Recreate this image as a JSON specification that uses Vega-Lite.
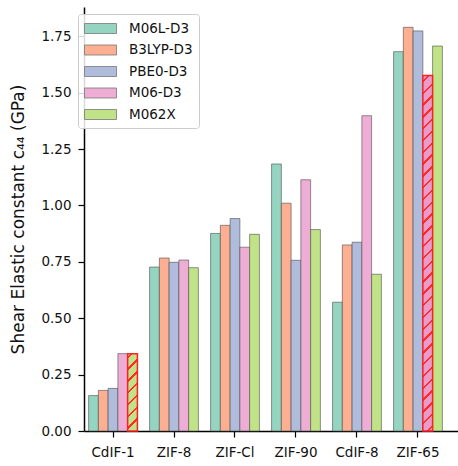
{
"$schema": "https://vega.github.io/schema/vega-lite/v6.json",
"width": 374,
"height": 424,
"autosize": {"type": "none"},
"padding": {"left": 84, "top": 7, "right": 0, "bottom": 35},
"background": "white",
"config": {
  "view": {"stroke": null},
  "font": "DejaVu Sans",
  "axis": {"domainColor": "#000", "domainWidth": 1.5, "tickColor": "#000", "tickWidth": 1.2, "tickSize": 6, "labelColor": "#111", "labelFont": "DejaVu Sans", "labelFontSize": 13.5, "grid": false, "titleFont": "DejaVu Sans", "titleColor": "#111"}
},
"data": {"values": [
  {"material": "CdIF-1", "method": "M06L-D3", "value": 0.157},
  {"material": "CdIF-1", "method": "B3LYP-D3", "value": 0.180},
  {"material": "CdIF-1", "method": "PBE0-D3", "value": 0.189},
  {"material": "CdIF-1", "method": "M06-D3", "value": 0.343},
  {"material": "CdIF-1", "method": "M062X", "value": 0.343},
  {"material": "ZIF-8", "method": "M06L-D3", "value": 0.727},
  {"material": "ZIF-8", "method": "B3LYP-D3", "value": 0.767},
  {"material": "ZIF-8", "method": "PBE0-D3", "value": 0.748},
  {"material": "ZIF-8", "method": "M06-D3", "value": 0.758},
  {"material": "ZIF-8", "method": "M062X", "value": 0.724},
  {"material": "ZIF-Cl", "method": "M06L-D3", "value": 0.876},
  {"material": "ZIF-Cl", "method": "B3LYP-D3", "value": 0.912},
  {"material": "ZIF-Cl", "method": "PBE0-D3", "value": 0.942},
  {"material": "ZIF-Cl", "method": "M06-D3", "value": 0.815},
  {"material": "ZIF-Cl", "method": "M062X", "value": 0.872},
  {"material": "ZIF-90", "method": "M06L-D3", "value": 1.184},
  {"material": "ZIF-90", "method": "B3LYP-D3", "value": 1.010},
  {"material": "ZIF-90", "method": "PBE0-D3", "value": 0.757},
  {"material": "ZIF-90", "method": "M06-D3", "value": 1.114},
  {"material": "ZIF-90", "method": "M062X", "value": 0.893},
  {"material": "CdIF-8", "method": "M06L-D3", "value": 0.571},
  {"material": "CdIF-8", "method": "B3LYP-D3", "value": 0.825},
  {"material": "CdIF-8", "method": "PBE0-D3", "value": 0.837},
  {"material": "CdIF-8", "method": "M06-D3", "value": 1.398},
  {"material": "CdIF-8", "method": "M062X", "value": 0.695},
  {"material": "ZIF-65", "method": "M06L-D3", "value": 1.682},
  {"material": "ZIF-65", "method": "B3LYP-D3", "value": 1.790},
  {"material": "ZIF-65", "method": "PBE0-D3", "value": 1.774},
  {"material": "ZIF-65", "method": "M06-D3", "value": 1.576},
  {"material": "ZIF-65", "method": "M062X", "value": 1.707}
]},
"encoding": {
  "x": {"field": "material", "type": "nominal",
    "scale": {"domain": ["CdIF-1", "ZIF-8", "ZIF-Cl", "ZIF-90", "CdIF-8", "ZIF-65"], "paddingInner": 0.2, "paddingOuter": 0.166, "align": 0.228},
    "axis": {"title": null, "labelAngle": 0, "labelPadding": 8}},
  "xOffset": {"field": "method", "type": "nominal",
    "scale": {"domain": ["M06L-D3", "B3LYP-D3", "PBE0-D3", "M06-D3", "M062X"], "paddingInner": 0, "paddingOuter": 0}},
  "y": {"field": "value", "type": "quantitative",
    "scale": {"domain": [0, 1.88], "nice": false, "zero": true},
    "axis": {"title": "Shear Elastic constant c₄₄ (GPa)", "titleFontSize": 17, "titleFontWeight": "normal", "titlePadding": 13, "labelPadding": 7, "values": [0, 0.25, 0.5, 0.75, 1.0, 1.25, 1.5, 1.75], "format": ".2f"}}
},
"layer": [
  {"mark": {"type": "bar", "stroke": "#4d4d4d", "strokeOpacity": 0.6, "strokeWidth": 1},
   "encoding": {"color": {"field": "method", "type": "nominal",
     "scale": {"domain": ["M06L-D3", "B3LYP-D3", "PBE0-D3", "M06-D3", "M062X"], "range": ["#94d4c0", "#fdaf91", "#afbcdb", "#eeadd5", "#c1e387"]},
     "legend": {"title": null, "orient": "none", "legendX": -6, "legendY": 7, "symbolType": "M-1,-0.625H3V0.625H-1Z", "symbolSize": 256, "symbolStrokeColor": "#777", "symbolStrokeWidth": 0.8, "labelFontSize": 13.5, "labelFont": "DejaVu Sans", "labelColor": "#111", "padding": 6, "rowPadding": 5.5, "fillColor": "rgba(255,255,255,0.85)", "strokeColor": "#cccccc", "cornerRadius": 3, "labelOffset": 28}}}},
  {"transform": [{"filter": "datum.material == 'CdIF-1' && datum.method == 'M062X'"}],
   "mark": {"type": "bar", "stroke": "#ff2020", "strokeWidth": 1.5,
     "fill": {"gradient": "linear", "x1": 0, "y1": 0, "x2": 0.1399, "y2": 1.1085, "stops": [
       {"offset": 0, "color": "#c1e387"},
       {"offset": 0.0321, "color": "#c1e387"}, {"offset": 0.0321, "color": "#ff2a2a"}, {"offset": 0.0597, "color": "#ff2a2a"}, {"offset": 0.0597, "color": "#c1e387"},
       {"offset": 0.1676, "color": "#c1e387"}, {"offset": 0.1676, "color": "#ff2a2a"}, {"offset": 0.1952, "color": "#ff2a2a"}, {"offset": 0.1952, "color": "#c1e387"},
       {"offset": 0.3030, "color": "#c1e387"}, {"offset": 0.3030, "color": "#ff2a2a"}, {"offset": 0.3306, "color": "#ff2a2a"}, {"offset": 0.3306, "color": "#c1e387"},
       {"offset": 0.4384, "color": "#c1e387"}, {"offset": 0.4384, "color": "#ff2a2a"}, {"offset": 0.4660, "color": "#ff2a2a"}, {"offset": 0.4660, "color": "#c1e387"},
       {"offset": 0.5739, "color": "#c1e387"}, {"offset": 0.5739, "color": "#ff2a2a"}, {"offset": 0.6015, "color": "#ff2a2a"}, {"offset": 0.6015, "color": "#c1e387"},
       {"offset": 0.7093, "color": "#c1e387"}, {"offset": 0.7093, "color": "#ff2a2a"}, {"offset": 0.7369, "color": "#ff2a2a"}, {"offset": 0.7369, "color": "#c1e387"},
       {"offset": 0.8448, "color": "#c1e387"}, {"offset": 0.8448, "color": "#ff2a2a"}, {"offset": 0.8724, "color": "#ff2a2a"}, {"offset": 0.8724, "color": "#c1e387"},
       {"offset": 1, "color": "#c1e387"}
     ]}}},
  {"transform": [{"filter": "datum.material == 'ZIF-65' && datum.method == 'M06-D3'"}],
   "mark": {"type": "bar", "stroke": "#ff2020", "strokeWidth": 1.5,
     "fill": {"gradient": "linear", "x1": 0, "y1": 0, "x2": 0.0282, "y2": 1.0267, "stops": [
       {"offset": 0, "color": "#e99ccb"},
       {"offset": 0.0131, "color": "#e99ccb"}, {"offset": 0.0131, "color": "#ff2a2a"}, {"offset": 0.0197, "color": "#ff2a2a"}, {"offset": 0.0197, "color": "#e99ccb"},
       {"offset": 0.0455, "color": "#e99ccb"}, {"offset": 0.0455, "color": "#ff2a2a"}, {"offset": 0.0521, "color": "#ff2a2a"}, {"offset": 0.0521, "color": "#e99ccb"},
       {"offset": 0.0778, "color": "#e99ccb"}, {"offset": 0.0778, "color": "#ff2a2a"}, {"offset": 0.0844, "color": "#ff2a2a"}, {"offset": 0.0844, "color": "#e99ccb"},
       {"offset": 0.1101, "color": "#e99ccb"}, {"offset": 0.1101, "color": "#ff2a2a"}, {"offset": 0.1167, "color": "#ff2a2a"}, {"offset": 0.1167, "color": "#e99ccb"},
       {"offset": 0.1424, "color": "#e99ccb"}, {"offset": 0.1424, "color": "#ff2a2a"}, {"offset": 0.1490, "color": "#ff2a2a"}, {"offset": 0.1490, "color": "#e99ccb"},
       {"offset": 0.1747, "color": "#e99ccb"}, {"offset": 0.1747, "color": "#ff2a2a"}, {"offset": 0.1813, "color": "#ff2a2a"}, {"offset": 0.1813, "color": "#e99ccb"},
       {"offset": 0.2070, "color": "#e99ccb"}, {"offset": 0.2070, "color": "#ff2a2a"}, {"offset": 0.2136, "color": "#ff2a2a"}, {"offset": 0.2136, "color": "#e99ccb"},
       {"offset": 0.2393, "color": "#e99ccb"}, {"offset": 0.2393, "color": "#ff2a2a"}, {"offset": 0.2459, "color": "#ff2a2a"}, {"offset": 0.2459, "color": "#e99ccb"},
       {"offset": 0.2717, "color": "#e99ccb"}, {"offset": 0.2717, "color": "#ff2a2a"}, {"offset": 0.2783, "color": "#ff2a2a"}, {"offset": 0.2783, "color": "#e99ccb"},
       {"offset": 0.3040, "color": "#e99ccb"}, {"offset": 0.3040, "color": "#ff2a2a"}, {"offset": 0.3106, "color": "#ff2a2a"}, {"offset": 0.3106, "color": "#e99ccb"},
       {"offset": 0.3363, "color": "#e99ccb"}, {"offset": 0.3363, "color": "#ff2a2a"}, {"offset": 0.3429, "color": "#ff2a2a"}, {"offset": 0.3429, "color": "#e99ccb"},
       {"offset": 0.3686, "color": "#e99ccb"}, {"offset": 0.3686, "color": "#ff2a2a"}, {"offset": 0.3752, "color": "#ff2a2a"}, {"offset": 0.3752, "color": "#e99ccb"},
       {"offset": 0.4009, "color": "#e99ccb"}, {"offset": 0.4009, "color": "#ff2a2a"}, {"offset": 0.4075, "color": "#ff2a2a"}, {"offset": 0.4075, "color": "#e99ccb"},
       {"offset": 0.4332, "color": "#e99ccb"}, {"offset": 0.4332, "color": "#ff2a2a"}, {"offset": 0.4398, "color": "#ff2a2a"}, {"offset": 0.4398, "color": "#e99ccb"},
       {"offset": 0.4655, "color": "#e99ccb"}, {"offset": 0.4655, "color": "#ff2a2a"}, {"offset": 0.4721, "color": "#ff2a2a"}, {"offset": 0.4721, "color": "#e99ccb"},
       {"offset": 0.4979, "color": "#e99ccb"}, {"offset": 0.4979, "color": "#ff2a2a"}, {"offset": 0.5045, "color": "#ff2a2a"}, {"offset": 0.5045, "color": "#e99ccb"},
       {"offset": 0.5302, "color": "#e99ccb"}, {"offset": 0.5302, "color": "#ff2a2a"}, {"offset": 0.5368, "color": "#ff2a2a"}, {"offset": 0.5368, "color": "#e99ccb"},
       {"offset": 0.5625, "color": "#e99ccb"}, {"offset": 0.5625, "color": "#ff2a2a"}, {"offset": 0.5691, "color": "#ff2a2a"}, {"offset": 0.5691, "color": "#e99ccb"},
       {"offset": 0.5948, "color": "#e99ccb"}, {"offset": 0.5948, "color": "#ff2a2a"}, {"offset": 0.6014, "color": "#ff2a2a"}, {"offset": 0.6014, "color": "#e99ccb"},
       {"offset": 0.6271, "color": "#e99ccb"}, {"offset": 0.6271, "color": "#ff2a2a"}, {"offset": 0.6337, "color": "#ff2a2a"}, {"offset": 0.6337, "color": "#e99ccb"},
       {"offset": 0.6594, "color": "#e99ccb"}, {"offset": 0.6594, "color": "#ff2a2a"}, {"offset": 0.6660, "color": "#ff2a2a"}, {"offset": 0.6660, "color": "#e99ccb"},
       {"offset": 0.6917, "color": "#e99ccb"}, {"offset": 0.6917, "color": "#ff2a2a"}, {"offset": 0.6983, "color": "#ff2a2a"}, {"offset": 0.6983, "color": "#e99ccb"},
       {"offset": 0.7241, "color": "#e99ccb"}, {"offset": 0.7241, "color": "#ff2a2a"}, {"offset": 0.7307, "color": "#ff2a2a"}, {"offset": 0.7307, "color": "#e99ccb"},
       {"offset": 0.7564, "color": "#e99ccb"}, {"offset": 0.7564, "color": "#ff2a2a"}, {"offset": 0.7630, "color": "#ff2a2a"}, {"offset": 0.7630, "color": "#e99ccb"},
       {"offset": 0.7887, "color": "#e99ccb"}, {"offset": 0.7887, "color": "#ff2a2a"}, {"offset": 0.7953, "color": "#ff2a2a"}, {"offset": 0.7953, "color": "#e99ccb"},
       {"offset": 0.8210, "color": "#e99ccb"}, {"offset": 0.8210, "color": "#ff2a2a"}, {"offset": 0.8276, "color": "#ff2a2a"}, {"offset": 0.8276, "color": "#e99ccb"},
       {"offset": 0.8533, "color": "#e99ccb"}, {"offset": 0.8533, "color": "#ff2a2a"}, {"offset": 0.8599, "color": "#ff2a2a"}, {"offset": 0.8599, "color": "#e99ccb"},
       {"offset": 0.8856, "color": "#e99ccb"}, {"offset": 0.8856, "color": "#ff2a2a"}, {"offset": 0.8922, "color": "#ff2a2a"}, {"offset": 0.8922, "color": "#e99ccb"},
       {"offset": 0.9179, "color": "#e99ccb"}, {"offset": 0.9179, "color": "#ff2a2a"}, {"offset": 0.9245, "color": "#ff2a2a"}, {"offset": 0.9245, "color": "#e99ccb"},
       {"offset": 0.9503, "color": "#e99ccb"}, {"offset": 0.9503, "color": "#ff2a2a"}, {"offset": 0.9569, "color": "#ff2a2a"}, {"offset": 0.9569, "color": "#e99ccb"},
       {"offset": 0.9826, "color": "#e99ccb"}, {"offset": 0.9826, "color": "#ff2a2a"}, {"offset": 0.9892, "color": "#ff2a2a"}, {"offset": 0.9892, "color": "#e99ccb"},
       {"offset": 1, "color": "#e99ccb"}
     ]}}}
]
}
